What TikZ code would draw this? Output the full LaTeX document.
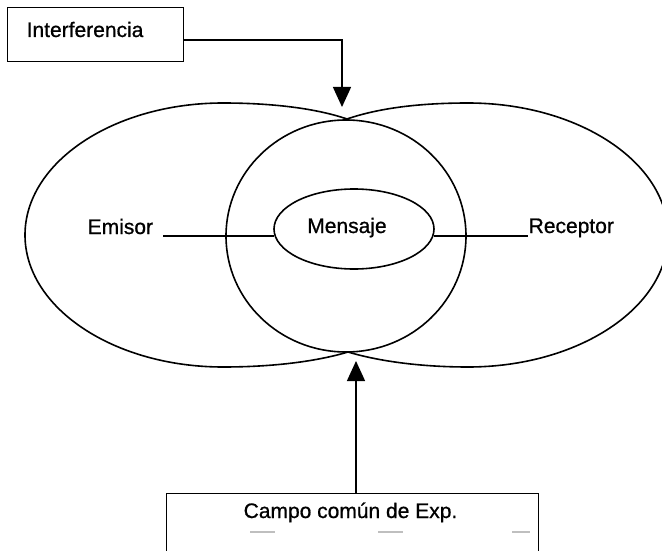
\documentclass[tikz,border=0pt]{standalone}
\usepackage{fontspec}
\setmainfont{Liberation Sans}[FakeBold=0.8]
\usetikzlibrary{arrows.meta,shapes.geometric}
\begin{document}
\begin{tikzpicture}[x=1pt,y=-1pt,
  line width=1.4pt,
  lbl/.style={inner sep=0pt, font=\fontsize{21}{25}\selectfont},
  boxnode/.style={draw, rectangle, inner sep=0pt, anchor=north west},
  arr/.style={-{Triangle[length=20pt,width=18pt]}},
  lobe/.style={line width=1.6pt},
  oval/.style={draw, ellipse, inner sep=0pt, line width=1.6pt}]
\useasboundingbox (0,0) rectangle (662,551);
\clip (0,0) rectangle (662,551);
% top box
\node[boxnode, minimum width=176pt, minimum height=54pt] (int) at (7,7) {};
\node[lbl, anchor=base west] (intlbl) at (26,37) {Interferencia};
\coordinate (ibend) at (342,40);
\coordinate (itip) at (342,107);
\draw[arr] (int.east |- ibend) -- (ibend) -- (itip);
% lobes
\coordinate (xt) at (347,119);
\coordinate (xb) at (348,352);
\draw[lobe] (xt) .. controls (315,108) and (270,103) .. (223,103)
  .. controls (114,103) and (25,162) .. (25,235)
  .. controls (25,308) and (114,367) .. (223,367)
  .. controls (275,367) and (318,361) .. (xb);
\draw[lobe] (xt) .. controls (379,108) and (420,103) .. (468,103)
  .. controls (578,103) and (668,162) .. (668,235)
  .. controls (668,308) and (578,367) .. (468,367)
  .. controls (420,367) and (378,361) .. (xb);
% central circle and message
\node[oval, minimum width=240pt, minimum height=232pt] (circ) at (346,236) {};
\node[oval, minimum width=160pt, minimum height=80pt] (mens) at (354,229) {};
\node[lbl, anchor=base] (menslbl) at (347,233) {Mensaje};
\node[lbl, anchor=base west] (emi) at (87,234) {Emisor};
\node[lbl, anchor=base west] (rec) at (528,233) {Receptor};
\coordinate (emend) at (163,236);
\coordinate (recend) at (528,236);
\draw (emend) -- (emend -| mens.185);
\draw (recend -| mens.355) -- (recend);
% bottom box
\node[boxnode, minimum width=372pt, minimum height=90pt] (campo) at (166,493) {};
\node[lbl, anchor=base west] (campolbl) at (243,518) {Campo común de Exp.};
\coordinate (btip) at (356,361);
\draw[arr] (campo.north -| btip) -- (btip);
% faint scan fragments
\draw[gray!50, line width=1.5pt] (250,532) -- (275,532) (378,532) -- (403,532) (512,532) -- (530,532);
\end{tikzpicture}
\end{document}
